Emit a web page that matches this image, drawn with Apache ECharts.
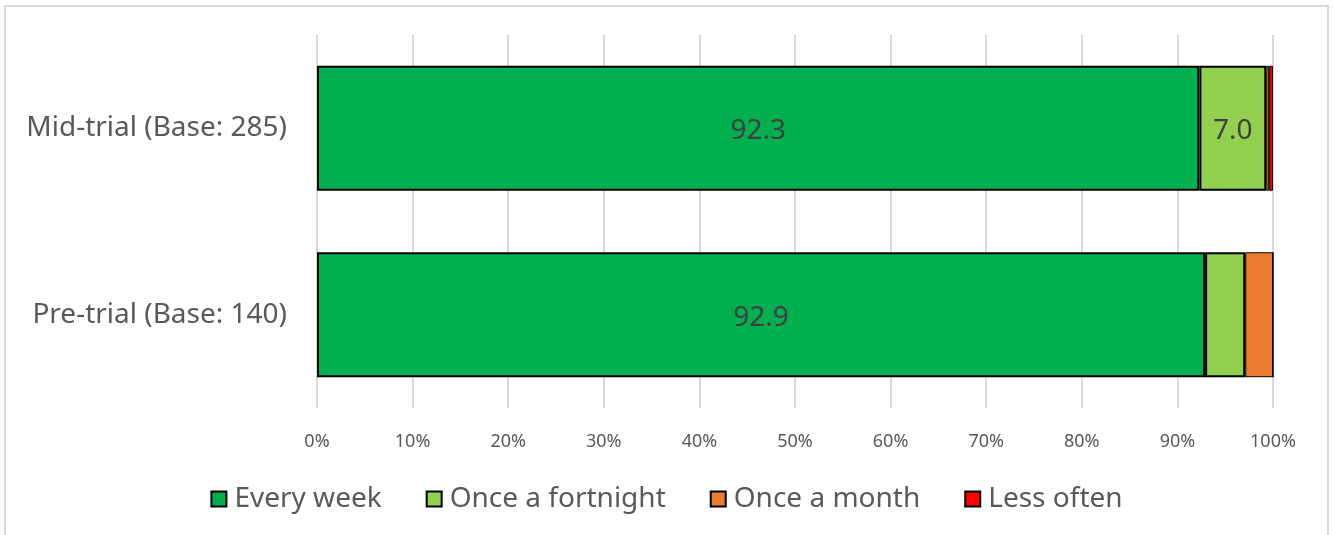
<!DOCTYPE html>
<html>
<head>
<meta charset="utf-8">
<script src="https://cdn.jsdelivr.net/npm/echarts@6/dist/echarts.min.js"></script>
<style>
  html, body { margin: 0; padding: 0; background: #fff; }
  #chart { width: 1333px; height: 535px; }
</style>
</head>
<body>
<div id="chart"></div>
<script>
// top to bottom
var categories = ['Mid-trial (Base: 285)', 'Pre-trial (Base: 140)']
var everyWeek = [92.3, 92.9]
var onceFortnight = [7.0, 4.2]
var onceMonth = [0.3, 2.9]
var lessOften = [0.4, 0]
var xTicks = [0, 10, 20, 30, 40, 50, 60, 70, 80, 90, 100]

var fontFam = '"Noto Sans", "Open Sans", sans-serif'

// only some segments carry a label, as in the original
var labelled = function (values, showIdx) {
  return values.map(function (v, i) {
    return {
      value: v,
      label: { show: showIdx.indexOf(i) >= 0 }
    }
  })
}

var makeSeries = function (name, color, data, bw) {
  return {
    name: name,
    type: 'bar',
    stack: 'total',
    barCategoryGap: '33%',
    data: data,
    itemStyle: { color: color, borderColor: '#000', borderWidth: bw },
    label: {
      show: false,
      position: 'inside',
      offset: [0, 3],
      color: '#404040',
      fontSize: 28,
      fontFamily: fontFam,
      formatter: function (p) { return p.value.toFixed(1) }
    },
    emphasis: { disabled: true }
  }
}

var chart = echarts.init(document.getElementById('chart'), null, { renderer: 'canvas' })
chart.setOption({
  animation: false,
  graphic: [{
    type: 'rect',
    shape: { x: 5, y: 6, width: 1323, height: 560 },
    style: { fill: 'none', stroke: '#d9d9d9', lineWidth: 2 },
    silent: true
  }],
  legend: {
    bottom: 17,
    left: 'center',
    itemWidth: 15,
    itemHeight: 15,
    itemGap: 44,
    icon: 'rect',
    textStyle: { color: '#595959', fontSize: 28, fontFamily: fontFam, padding: [0, 0, 0, 3] },
    data: ['Every week', 'Once a fortnight', 'Once a month', 'Less often']
  },
  grid: {
    left: 317,
    right: 60,
    top: 35,
    bottom: 127,
    containLabel: false
  },
  xAxis: {
    type: 'value',
    min: 0,
    max: 100,
    interval: 10,
    axisLine: { show: false },
    axisTick: { show: false },
    splitLine: { lineStyle: { color: '#d9d9d9', width: 2 } },
    axisLabel: {
      color: '#595959',
      fontSize: 18,
      fontFamily: fontFam,
      margin: 25,
      formatter: function (v) { return xTicks.indexOf(v) >= 0 ? v + '%' : '' }
    }
  },
  yAxis: {
    type: 'category',
    inverse: true,
    data: categories,
    axisLine: { show: false },
    axisTick: { show: false },
    axisLabel: {
      color: '#595959',
      fontSize: 28,
      fontFamily: fontFam,
      margin: 30
    }
  },
  series: [
    makeSeries('Every week', '#00b050', labelled(everyWeek, [0, 1]), 2),
    makeSeries('Once a fortnight', '#92d050', labelled(onceFortnight, [0]), 2),
    makeSeries('Once a month', '#ed7d31', labelled(onceMonth, []), 1),
    makeSeries('Less often', '#ff0000', labelled(lessOften, []), 1)
  ]
})
</script>
</body>
</html>
